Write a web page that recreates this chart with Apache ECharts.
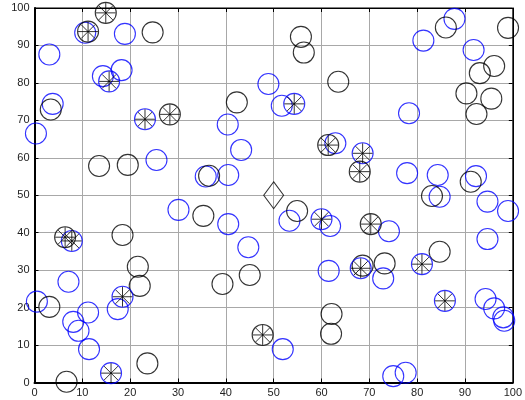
<!DOCTYPE html>
<html>
<head>
<meta charset="utf-8">
<script src="https://cdn.jsdelivr.net/npm/echarts@6/dist/echarts.min.js"></script>
<style>html,body{margin:0;padding:0;background:#fff}#c{width:525px;height:400px}</style>
</head>
<body>
<div id="c"></div>
<script>
const tickLabels = [0,10,20,30,40,50,60,70,80,90,100];
const blackCircles = [
 [24.7,93.5],[3.4,72.9],[55.7,92.3],[56.3,88.1],[63.5,80.3],[42.3,74.8],[86.0,94.8],[99.0,94.7],
 [96.1,84.5],[93.1,82.6],[90.3,77.2],[95.5,75.8],[92.4,71.7],[13.5,57.8],[19.5,58.1],[18.4,39.4],
 [21.6,30.9],[22.0,25.8],[3.1,20.2],[23.6,5.1],[6.7,0.2],[36.5,55.2],[35.3,44.5],[54.9,45.8],
 [39.3,26.3],[45.0,28.7],[62.1,18.3],[62.0,13.0],[91.2,53.6],[83.1,49.8],[84.7,34.9],[73.2,31.8],
 [68.6,31.2]
];
const blueCircles = [
 [10.6,93.4],[18.9,93.1],[3.1,87.6],[14.3,81.8],[18.2,83.4],[3.8,74.4],[0.3,66.5],[48.9,79.7],
 [51.7,73.9],[40.4,68.9],[87.8,97.1],[81.3,91.3],[91.8,88.8],[78.3,71.9],[25.5,59.4],[30.1,46.1],
 [43.2,62.1],[62.9,63.9],[35.8,55.0],[40.5,55.4],[40.5,42.3],[53.3,43.2],[61.8,41.8],[44.7,36.1],
 [61.5,29.8],[77.9,55.9],[84.3,55.4],[92.3,55.1],[84.7,49.6],[94.7,48.3],[99.0,45.8],[74.1,40.4],
 [94.7,38.3],[72.9,27.8],[94.3,22.3],[96.1,19.8],[98.0,17.4],[98.2,16.5],[75.0,1.7],[77.6,2.6],
 [51.9,8.9],[7.1,26.9],[0.5,21.6],[17.4,19.6],[11.2,18.7],[8.1,16.2],[9.2,13.8],[11.4,8.9]
];
const blackStars = [
 [14.9,98.7],[11.2,93.7],[28.3,71.6],[6.4,38.8],[61.4,63.4],[68.0,56.3],[70.3,42.3],[47.7,12.7]
];
const blueStars = [
 [15.6,80.4],[23.1,70.3],[54.3,74.4],[7.8,37.8],[68.6,61.2],[60.0,43.6],[68.2,30.5],[81.0,31.6],
 [85.8,21.8],[18.4,22.9],[16.0,2.5]
];
const centerPoint = [[50,50]];

const star = 'path://M0,-10L0,10M-10,0L10,0M-7.07,-7.07L7.07,7.07M-7.07,7.07L7.07,-7.07';
const SZ = 21;
function circ(name, data, col){
  return {name, type:'scatter', data, symbol:'circle', symbolSize:SZ, silent:true,
    itemStyle:{color:'rgba(0,0,0,0)', borderColor:col, borderWidth:1.1}};
}
function stars(name, data){
  return {name, type:'scatter', data, symbol:star, symbolSize:SZ-1, silent:true, z:5,
    itemStyle:{color:'rgba(0,0,0,0)', borderColor:'#000', borderWidth:1}};
}
const gridLine = {show:true, lineStyle:{color:'#a8a8a8', width:1, type:'solid'}};
const labelStyle = {color:'#222', fontFamily:'Liberation Sans, Arial', fontSize:11};
const chart = echarts.init(document.getElementById('c'), null, {renderer:'canvas'});
chart.setOption({
  animation:false,
  backgroundColor:'#fff',
  grid:{left:34.5, right:12, top:8, bottom:17.5, containLabel:false, show:true, borderColor:'#000', borderWidth:1},
  xAxis:[
    {type:'value', min:0, max:100, interval:10, position:'bottom',
     axisLine:{show:true, onZero:false, lineStyle:{color:'#000', width:2}},
     axisTick:{show:true, inside:true, length:4, lineStyle:{color:'#000'}},
     axisLabel:Object.assign({margin:5, formatter:v=>tickLabels.includes(v)?String(v):''}, labelStyle),
     splitLine:gridLine},
    {type:'value', min:0, max:100, interval:10, position:'top',
     axisLine:{show:true, onZero:false, lineStyle:{color:'#000', width:1}},
     axisTick:{show:true, inside:true, length:4, lineStyle:{color:'#000'}},
     axisLabel:{show:false}, splitLine:{show:false}}
  ],
  yAxis:[
    {type:'value', min:0, max:100, interval:10, position:'left',
     axisLine:{show:true, onZero:false, lineStyle:{color:'#000', width:2}},
     axisTick:{show:true, inside:true, length:4, lineStyle:{color:'#000'}},
     axisLabel:Object.assign({margin:5, formatter:v=>tickLabels.includes(v)?String(v):''}, labelStyle),
     splitLine:gridLine},
    {type:'value', min:0, max:100, interval:10, position:'right',
     axisLine:{show:true, onZero:false, lineStyle:{color:'#000', width:1}},
     axisTick:{show:true, inside:true, length:4, lineStyle:{color:'#000'}},
     axisLabel:{show:false}, splitLine:{show:false}}
  ],
  series:[
    circ('blue', blueCircles, '#0000ff'),
    circ('black', blackCircles, '#000000'),
    circ('blueStarRing', blueStars, '#0000ff'),
    circ('blackStarRing', blackStars, '#000000'),
    stars('blueStarSpokes', blueStars),
    stars('blackStarSpokes', blackStars),
    {name:'center', type:'scatter', data:centerPoint, symbol:'diamond', symbolSize:[20,27], silent:true,
     itemStyle:{color:'rgba(0,0,0,0)', borderColor:'#000', borderWidth:1}}
  ]
});
</script>
</body>
</html>
